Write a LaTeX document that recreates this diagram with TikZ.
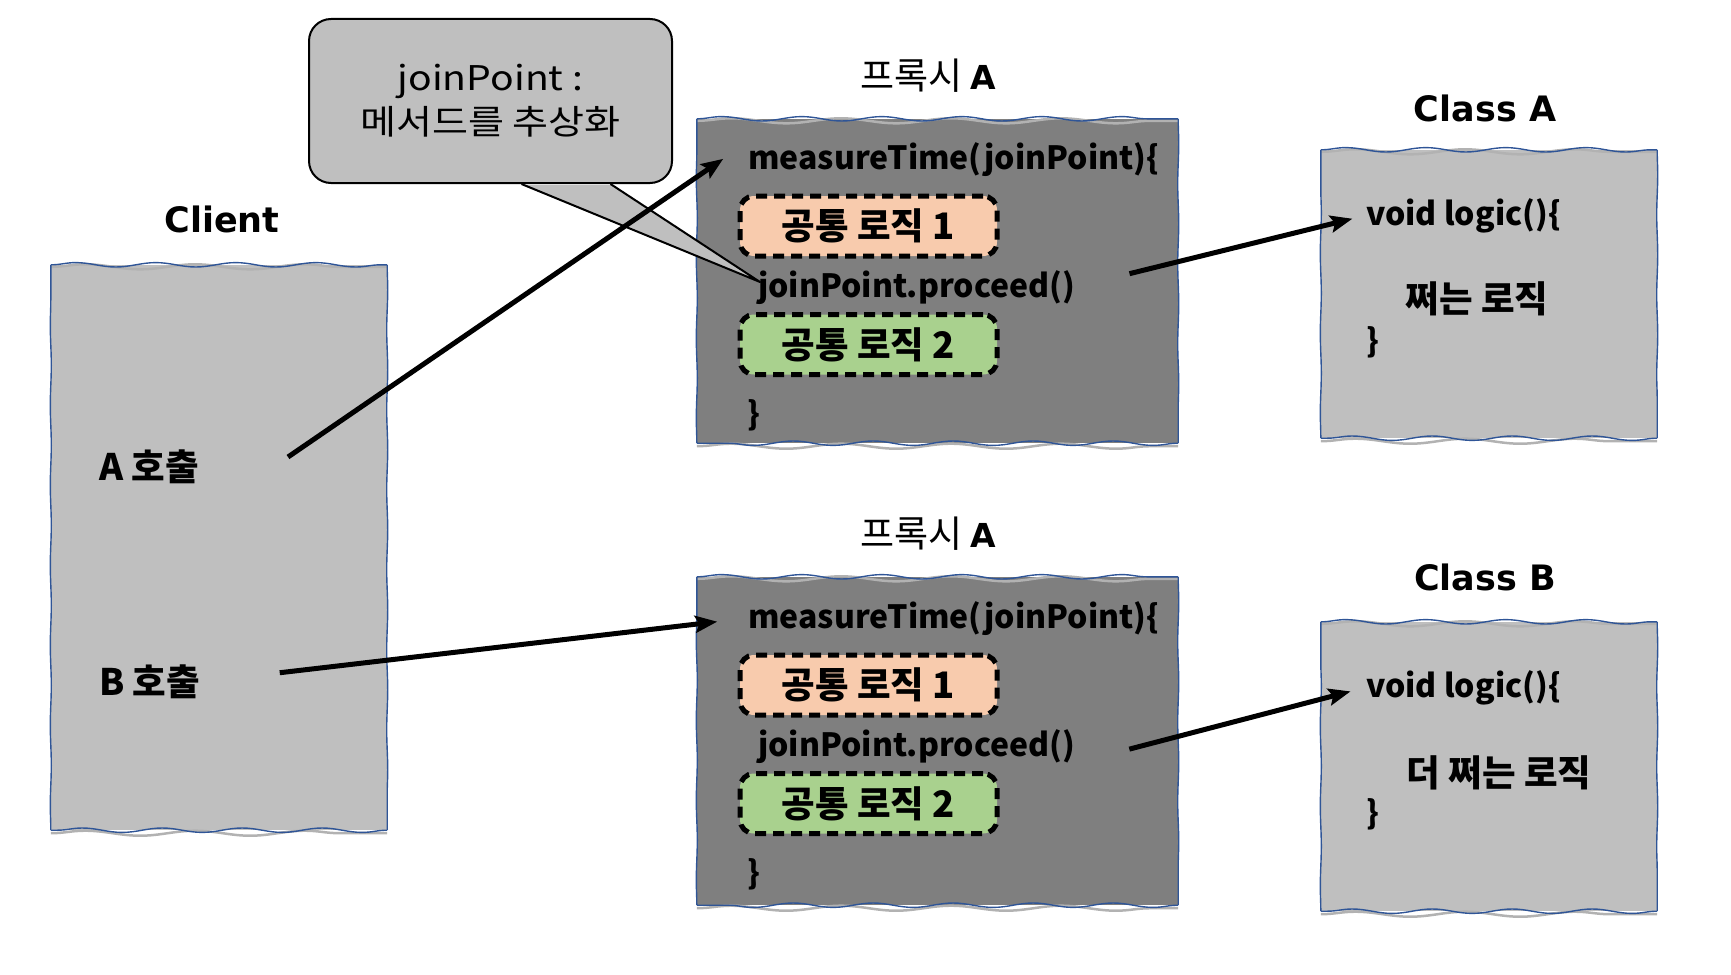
\documentclass[tikz,border=0pt]{standalone}
\usepackage{fontspec}
\setmainfont{Noto Sans CJK KR}
\newfontfamily\heavyfont{DejaVu Sans}
\newfontfamily\thinfont{Noto Sans CJK KR}
\newfontfamily\bubblefont{Noto Sans CJK KR}[FakeStretch=1.15]
\usetikzlibrary{arrows.meta,shapes,positioning,calc,decorations.pathmorphing}
\definecolor{boxgray}{RGB}{191,191,191}
\definecolor{proxygray}{RGB}{127,127,127}
\definecolor{edgeblue}{RGB}{47,85,151}
\definecolor{peach}{RGB}{248,203,173}
\definecolor{leaf}{RGB}{169,209,142}
\tikzset{
  % Define standard arrow tip
  >={Stealth[length=22pt,width=17pt,inset=4pt]},
  % Define style for the (empty) sketched boxes
  holder/.style={
    rectangle,
    inner sep=0pt},
  % wavy edge of a sketched box
  wavy/.style={
    draw=edgeblue, line width=1.4pt,
    decorate, decoration={snake, amplitude=#1, segment length=80pt}},
  wavy/.default=2.2pt,
  % grey smudge under a wavy edge
  smudge/.style={
    draw=black!30, line width=2.5pt,
    decorate, decoration={snake, amplitude=2.5pt, segment length=110pt}},
  % Define style for dashed logic boxes
  logic/.style={
    rectangle,
    rounded corners=14pt,
    draw=black, line width=5pt,
    dash pattern=on 11pt off 7pt,
    minimum width=257pt,
    minimum height=60pt,
    font=\bfseries\fontsize{36.5}{40}\selectfont},
  % code lines
  code/.style={anchor=base west, inner sep=0pt,
    font=\bfseries\fontsize{32}{40}\selectfont},
  % korean lines
  hangul/.style={inner sep=0pt,
    font=\bfseries\fontsize{36.5}{40}\selectfont},
  % titles
  title/.style={inner sep=0pt,
    font=\heavyfont\bfseries\fontsize{35}{40}\selectfont},
  % proxy titles
  proxytitle/.style={inner sep=0pt,
    font=\thinfont\fontsize{37}{40}\selectfont},
  % Define arrow style
  arrow/.style={
    ->,
    line width=5pt},
}
\def\sketchbox#1#2{ % #1 Fill, #2 Node
\fill[#1] (#2.south west) rectangle (#2.north east);
\path[smudge] ([yshift=-2pt]#2.north west) -- ([yshift=-2pt]#2.north east);
\path[smudge] ([yshift=-3pt]#2.south west) -- ([yshift=-3pt]#2.south east);
\path[wavy] (#2.north west) -- (#2.north east);
\path[wavy] (#2.south east) -- (#2.south west);
\path[wavy=.5pt] (#2.north east) -- (#2.south east);
\path[wavy=.5pt] (#2.south west) -- (#2.north west);
}

\begin{document}
\begin{tikzpicture}[x=1pt, y=-1pt]
  \useasboundingbox (0,0) rectangle (1731,974);
  % boxes
  \node[holder, minimum width=336pt, minimum height=565pt] (client) at (219,547.5) {};
  \sketchbox{boxgray}{client}
  \node[holder, minimum width=481pt, minimum height=324pt] (proxyA) at (937.5,281) {};
  \sketchbox{proxygray}{proxyA}
  \node[holder, minimum width=481pt, minimum height=328pt] (proxyB) at (937.5,741) {};
  \sketchbox{proxygray}{proxyB}
  \node[holder, minimum width=336pt, minimum height=288pt] (classA) at (1489,294) {};
  \sketchbox{boxgray}{classA}
  \node[holder, minimum width=336pt, minimum height=289pt] (classB) at (1489,766.5) {};
  \sketchbox{boxgray}{classB}

  % callout
  \node[rectangle, rounded corners=22pt, draw=black, line width=2pt, fill=boxgray,
    minimum width=363pt, minimum height=164pt, align=center,
    font=\bubblefont\fontsize{34}{44}\selectfont] (callout) at (490.5,101) {joinPoint :\\메서드를 추상화};
  \coordinate (tip) at (760,282);
  \fill[boxgray] ([xshift=31pt,yshift=-1pt]callout.south) -- (tip) -- ([xshift=120pt,yshift=-1pt]callout.south) -- cycle;
  \draw[line width=2pt, line join=round] ([xshift=31pt]callout.south) -- (tip) -- ([xshift=120pt]callout.south);

  % client
  \node[title] (clienttitle) at (222,219) {Client};
  \node[hangul, anchor=west] (acall) at (99,467) {A 호출};
  \node[hangul, anchor=west] (bcall) at (99,682) {B 호출};

  % proxy A (top)
  \node[proxytitle] (proxyAtitle) at (928,76) {프록시 {\heavyfont\bfseries\fontsize{33}{40}\selectfont A}};
  \node[code] (measureA) at (748,169) {measureTime(joinPoint)\{};
  \node[logic, fill=peach] (logicA1) at (868.5,226) {공통 로직 1};
  \node[code] (procA) at (758,297) {joinPoint.proceed()};
  \node[logic, fill=leaf] (logicA2) at (868.5,344.5) {공통 로직 2};
  \node[code, anchor=west] (closeA) at (747,415) {\}};

  % class A
  \node[title] (classAtitle) at (1485,108) {Class A};
  \node[code] (voidA) at (1366,225) {void logic()\{};
  \node[hangul] (bodyA) at (1477,299) {쩌는 로직};
  \node[code, anchor=west] (endA) at (1366,342) {\}};

  % proxy A (bottom)
  \node[proxytitle] (proxyBtitle) at (928,534) {프록시 {\heavyfont\bfseries\fontsize{33}{40}\selectfont A}};
  \node[code] (measureB) at (748,628) {measureTime(joinPoint)\{};
  \node[logic, fill=peach] (logicB1) at (868.5,685) {공통 로직 1};
  \node[code] (procB) at (758,756) {joinPoint.proceed()};
  \node[logic, fill=leaf] (logicB2) at (868.5,803.5) {공통 로직 2};
  \node[code, anchor=west] (closeB) at (747,874) {\}};

  % class B
  \node[title] (classBtitle) at (1485,577) {Class B};
  \node[code] (voidB) at (1366,697) {void logic()\{};
  \node[hangul] (bodyB) at (1499,773) {더 쩌는 로직};
  \node[code, anchor=west] (endB) at (1366,814) {\}};

  % arrows
  \coordinate (astart) at (288,457);
  \draw[arrow, shorten >=30pt] (astart) -- (measureA.north west);
  \draw[arrow, shorten <=80pt, shorten >=31pt] (bcall.east) -- (measureB.west);
  \draw[arrow, shorten <=56pt, shorten >=14pt] (procA.east) -- (voidA.west);
  \draw[arrow, shorten <=56pt, shorten >=16pt] (procB.south east) -- (voidB.west);
\end{tikzpicture}
\end{document}
